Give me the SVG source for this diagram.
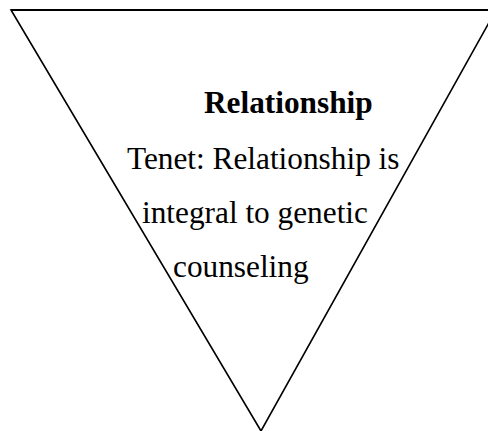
<svg xmlns="http://www.w3.org/2000/svg" width="488" height="431" viewBox="0 0 488 431">
<style>
.tri{fill:#fff;stroke:#000;stroke-width:1.6;stroke-linejoin:miter}
.top{stroke:#000;stroke-width:2.2}
.t{font-family:"Liberation Serif","Times New Roman",serif;font-size:31.3px;fill:#000}
.b{font-weight:bold}
</style>
<rect width="488" height="431" fill="#fff"/>
<g id="relationship">
<polygon class="tri" points="11,10 496,10 261,431"/>
<line class="top" x1="11" y1="10" x2="496" y2="10"/>
<text class="t b" x="204" y="113">Relationship</text>
<text class="t" x="127" y="169">Tenet: Relationship is</text>
<text class="t" x="142" y="223">integral to genetic</text>
<text class="t" x="173" y="277">counseling</text>
</g>
<g id="connectors"/>
</svg>
